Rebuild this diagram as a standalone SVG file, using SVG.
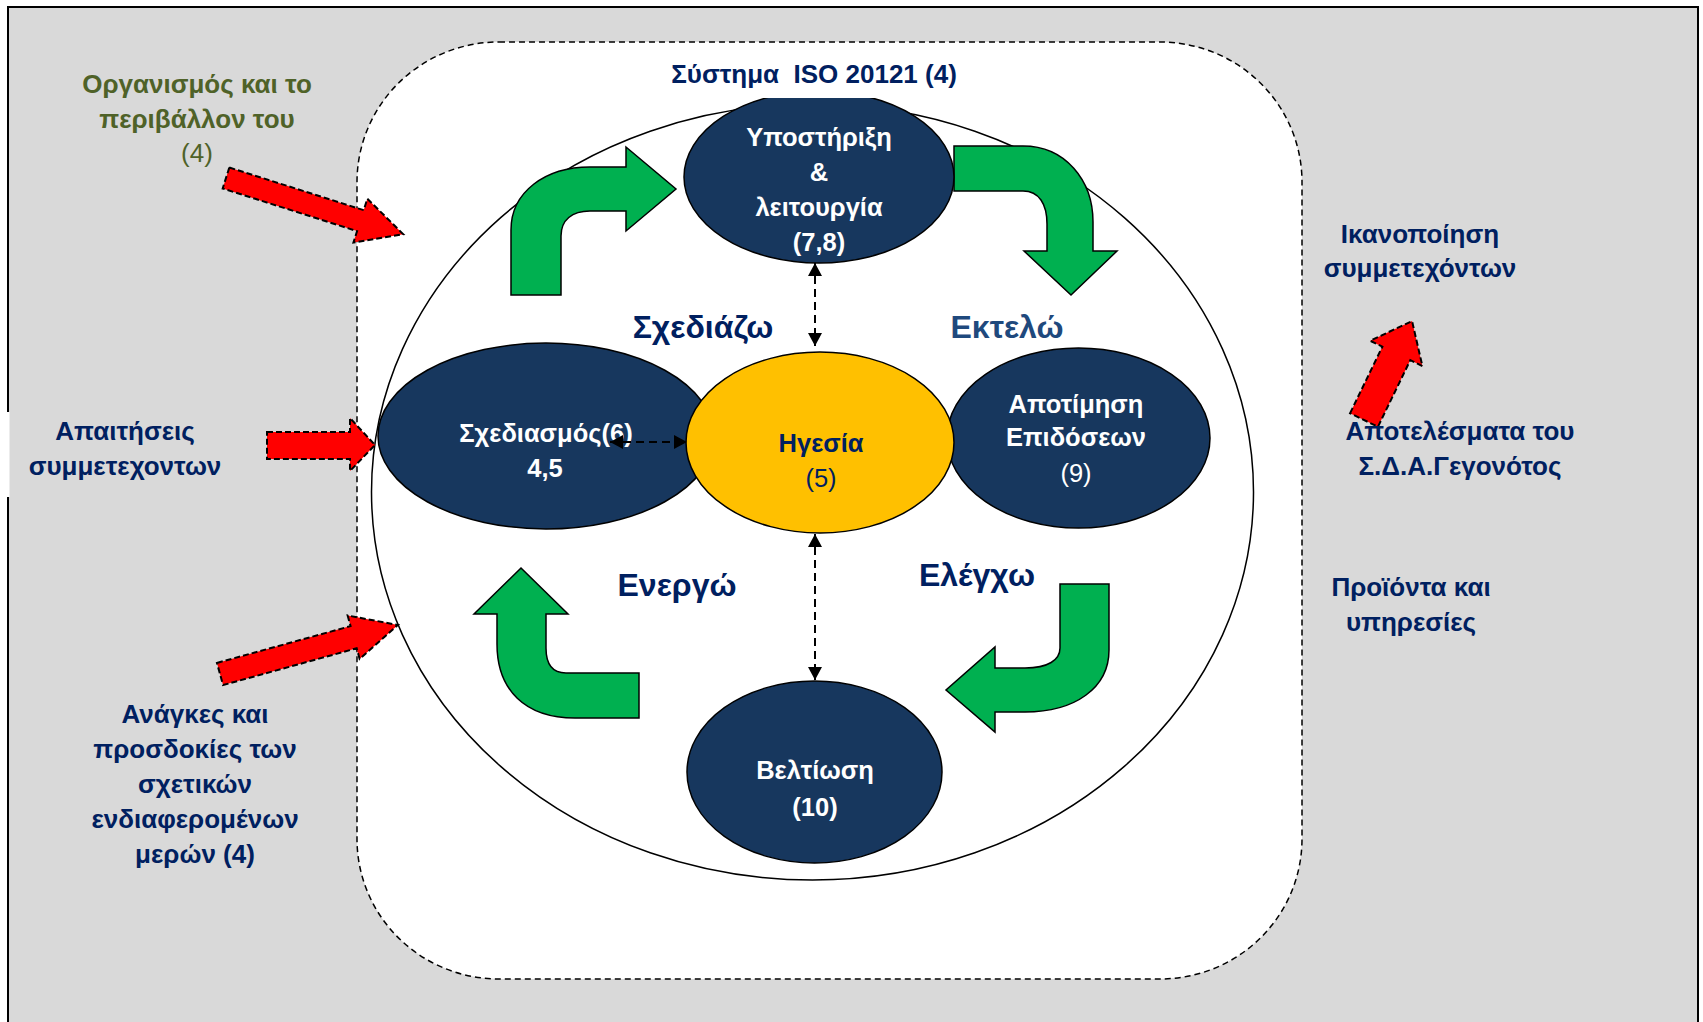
<svg xmlns="http://www.w3.org/2000/svg" width="1703" height="1022" viewBox="0 0 1703 1022">
<style>
.t{font-family:"Liberation Sans",Arial,sans-serif;font-weight:bold;font-size:26px;text-anchor:middle}
.nd{font-size:25.5px}
.reg{font-weight:normal}
.ph{font-size:32px}
.navy{fill:#002060}
.olive{fill:#4F6228}
.wh{fill:#FFFFFF}
.node{fill:#17375E;stroke:#000;stroke-width:1.5}
.gold{fill:#FFC000;stroke:#000;stroke-width:1.5}
.green{fill:#00B050;stroke:#000;stroke-width:1.5}
.red{fill:#FF0000;stroke:#000;stroke-width:2;stroke-dasharray:6 3}
.conn{fill:none;stroke:#000;stroke-width:2;stroke-dasharray:8 5}
</style>
<defs>
<marker id="ah" viewBox="0 0 13 14" markerUnits="userSpaceOnUse" markerWidth="13" markerHeight="14" refX="13" refY="7" orient="auto-start-reverse">
<path d="M0,0 L13,7 L0,14 z" fill="#000"/>
</marker>
<polygon id="redArrow" points="0,-11 141,-11 141,-23 186,0 141,23 141,11 0,11"/>
</defs>

<rect x="0" y="0" width="1703" height="1022" fill="#FFFFFF"/>
<rect x="8" y="7" width="1690" height="1030" fill="#D9D9D9" stroke="#000" stroke-width="2"/>
<rect x="0" y="412" width="9.5" height="85" fill="#FFFFFF"/>

<rect id="system" x="357" y="42" width="945" height="937" rx="142" ry="140" fill="#FFFFFF" stroke="#000" stroke-width="1.5" stroke-dasharray="6 4"/>
<ellipse id="cycle" cx="812.5" cy="492" rx="441" ry="388" fill="#FFFFFF" stroke="#000" stroke-width="1.5"/>

<g id="flow-arrows">
<path class="green" d="M511,295 V230 C511,192 545,167 590,167 H626 V147 L676,189 L626,231 V211 H590 C572,211 561,220 561,236 V295 Z"/>
<path class="green" d="M954,146 H1023 C1065,146 1093,180 1093,222 V251 H1117 L1071,295 L1024,251 H1047 V224 C1047,204 1039,191 1023,191 H954 Z"/>
<path class="green" d="M521,568 L568,614 H546 V648 C546,665 553,673 566,673 H639 V718 H575 C525,718 497,690 497,644 V614 H474 Z"/>
<path class="green" d="M1060,584 H1109 V650 C1109,688 1075,712 1025,712 H995 V732 L946,690 L995,647 V668 H1025 C1048,668 1060,660 1060,648 Z"/>
</g>

<g id="node-support">
<ellipse class="node" cx="819" cy="177" rx="135" ry="86"/>
<text class="t nd wh" x="819" y="146">Υποστήριξη</text>
<text class="t nd wh" x="819" y="181">&amp;</text>
<text class="t nd wh" x="819" y="216">λειτουργία</text>
<text class="t nd wh" x="819" y="251">(7,8)</text>
</g>

<g id="title">
<rect x="660" y="50" width="310" height="48" fill="#FFFFFF"/>
<text class="t navy" x="814" y="83" xml:space="preserve">Σύστημα  ISO 20121 (4)</text>
</g>

<g id="node-planning">
<ellipse class="node" cx="546" cy="436" rx="168" ry="93"/>
<text class="t nd wh" x="546" y="442">Σχεδιασμός(6)</text>
<text class="t nd wh" x="545" y="477">4,5</text>
</g>

<g id="node-evaluation">
<ellipse class="node" cx="1078.5" cy="438" rx="131.5" ry="90"/>
<text class="t nd wh" x="1076" y="413">Αποτίμηση</text>
<text class="t nd wh" x="1076" y="446">Επιδόσεων</text>
<text class="t nd wh reg" x="1076" y="482">(9)</text>
</g>

<g id="node-leadership">
<ellipse class="gold" cx="820" cy="442.5" rx="134" ry="90.5"/>
<text class="t nd navy" x="821" y="452">Ηγεσία</text>
<text class="t nd navy reg" x="821" y="487">(5)</text>
</g>

<g id="node-improvement">
<ellipse class="node" cx="814.5" cy="772" rx="127.5" ry="91"/>
<text class="t nd wh" x="815" y="779">Βελτίωση</text>
<text class="t nd wh" x="815" y="816">(10)</text>
</g>

<g id="connectors">
<line class="conn" x1="815" y1="263" x2="815" y2="346" marker-start="url(#ah)" marker-end="url(#ah)"/>
<line class="conn" x1="815" y1="534" x2="815" y2="680" marker-start="url(#ah)" marker-end="url(#ah)"/>
<line class="conn" x1="610" y1="442" x2="687" y2="442" marker-start="url(#ah)" marker-end="url(#ah)"/>
</g>

<g id="phase-labels">
<text class="t ph navy" x="703" y="338">Σχεδιάζω</text>
<text class="t ph" x="1007" y="338" fill="#1F497D">Εκτελώ</text>
<text class="t ph navy" x="677" y="596">Ενεργώ</text>
<text class="t ph navy" x="977" y="586">Ελέγχω</text>
</g>

<g id="input-arrows">
<use href="#redArrow" class="red" transform="translate(226,178) rotate(17.6)"/>
<polygon class="red" points="267,432 350,432 350,418 375,445 350,471 350,459 267,459"/>
<polygon class="red" points="0,-11.5 138.6,-11.5 138.6,-22.5 184.6,0 138.6,22.5 138.6,11.5 0,11.5" transform="translate(220,674) rotate(-15.4)"/>
<polygon class="red" points="0,-15.5 74,-15.5 74,-29 110,0 74,29 74,15.5 0,15.5" transform="translate(1364,420) rotate(-64.1)"/>
</g>

<g id="label-organization">
<text class="t olive" x="197" y="93">Οργανισμός και το</text>
<text class="t olive" x="197" y="128">περιβάλλον του</text>
<text class="t olive reg" x="197" y="162">(4)</text>
</g>
<g id="label-requirements">
<text class="t navy" x="125" y="440">Απαιτήσεις</text>
<text class="t navy" x="125" y="475">συμμετεχοντων</text>
</g>
<g id="label-needs">
<text class="t navy" x="195" y="723">Ανάγκες και</text>
<text class="t navy" x="195" y="758">προσδοκίες των</text>
<text class="t navy" x="195" y="793">σχετικών</text>
<text class="t navy" x="195" y="828">ενδιαφερομένων</text>
<text class="t navy" x="195" y="863">μερών (4)</text>
</g>
<g id="label-satisfaction">
<text class="t navy" x="1420" y="243">Ικανοποίηση</text>
<text class="t navy" x="1420" y="277">συμμετεχόντων</text>
</g>
<g id="label-results">
<text class="t navy" x="1460" y="440">Αποτελέσματα του</text>
<text class="t navy" x="1460" y="475">Σ.Δ.Α.Γεγονότος</text>
</g>
<g id="label-products">
<text class="t navy" x="1411" y="596">Προϊόντα και</text>
<text class="t navy" x="1411" y="631">υπηρεσίες</text>
</g>
</svg>
